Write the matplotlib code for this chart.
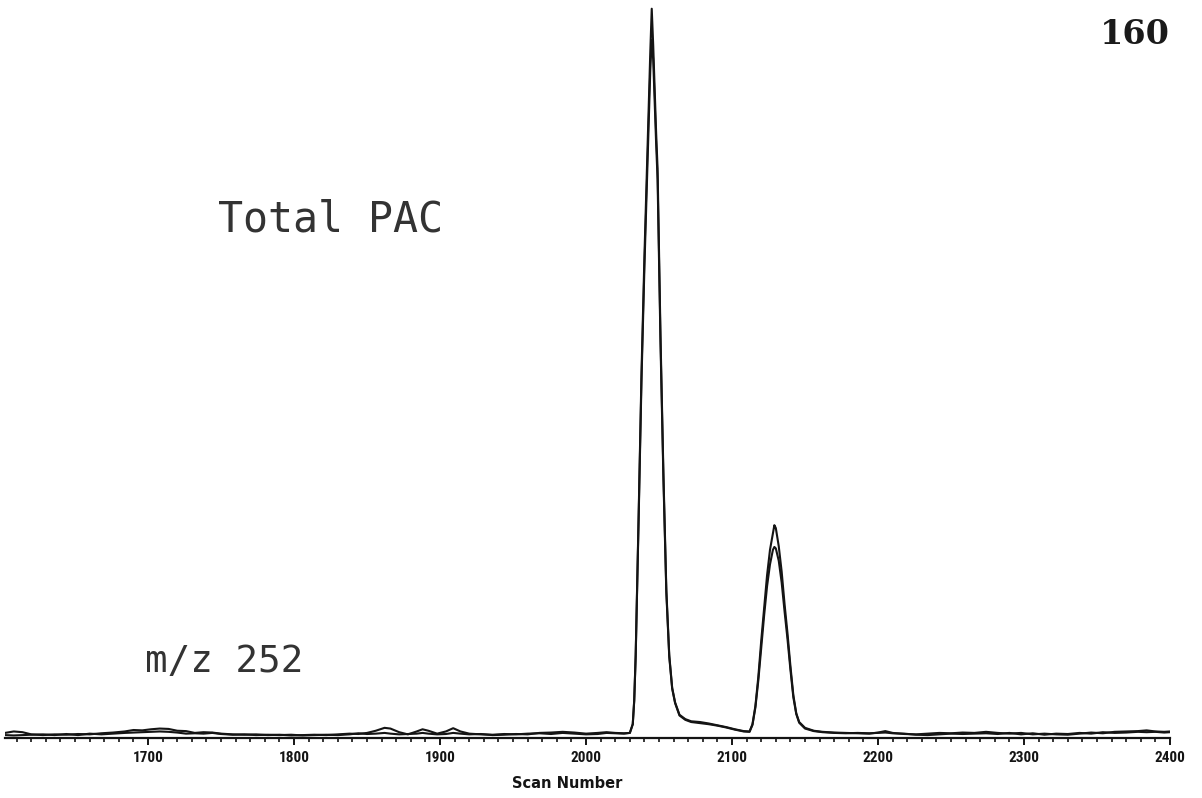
import matplotlib
matplotlib.use("Agg")
import matplotlib.pyplot as plt
from matplotlib.ticker import MultipleLocator, FixedLocator

# Scan numbers at which the two ion-current traces are sampled
scans = [
    1602, 1608, 1614, 1620, 1628, 1636, 1644, 1652, 1660, 1668, 1676, 1684,
    1690, 1696, 1702, 1708, 1714, 1720, 1726, 1732, 1738, 1744, 1750, 1758,
    1766, 1774, 1782, 1790, 1798, 1806, 1814, 1822, 1830, 1838, 1844, 1850,
    1856, 1862, 1866, 1872, 1878, 1884, 1888, 1892, 1898, 1904, 1909, 1914,
    1920, 1928, 1936, 1944, 1952, 1960, 1968, 1976, 1984, 1992, 2000, 2008,
    2014, 2020, 2026, 2030,
    2032, 2033, 2034, 2036, 2038, 2040, 2042, 2044, 2045, 2046, 2048, 2049,
    2051, 2053, 2055, 2057, 2059, 2061,
    2064, 2068, 2072, 2078, 2084, 2090, 2096, 2102, 2108, 2112,
    2114, 2116, 2118, 2120, 2122, 2124, 2126, 2128, 2129, 2130, 2132, 2134,
    2136, 2138, 2140, 2142, 2144, 2146,
    2150, 2156, 2162, 2170, 2178, 2186, 2194, 2200, 2205, 2210, 2218, 2226,
    2234, 2242, 2250, 2258, 2266, 2274, 2282, 2290, 2298, 2306, 2314, 2322,
    2330, 2338, 2346, 2354, 2362, 2370, 2378, 2384, 2390, 2396, 2400,
]

# Total PAC ion current (relative intensity)
total_pac = [
    0.30, 0.50, 0.40, 0.10, 0.00, 0.10, 0.05, 0.15, 0.10, 0.25, 0.35, 0.50,
    0.70, 0.65, 0.80, 0.90, 0.85, 0.60, 0.55, 0.30, 0.40, 0.35, 0.20, 0.10,
    0.05, 0.10, 0.00, 0.05, -0.05, 0.00, 0.05, 0.00, 0.10, 0.20, 0.15, 0.30,
    0.60, 1.00, 0.90, 0.40, 0.10, 0.50, 0.80, 0.60, 0.20, 0.50, 0.95, 0.50,
    0.20, 0.10, 0.05, 0.15, 0.10, 0.20, 0.25, 0.15, 0.30, 0.20, 0.10, 0.15,
    0.30, 0.25, 0.20, 0.30,
    1.5, 4.8, 11.0, 30.0, 50.0, 66.0, 80.0, 94.0, 100.0, 95.0, 83.0, 78.0,
    55.0, 36.0, 20.0, 11.0, 6.5, 4.5,
    2.8, 2.2, 1.9, 1.8, 1.6, 1.35, 1.1, 0.8, 0.55, 0.5,
    1.5, 4.0, 8.0, 13.0, 17.5, 22.0, 25.5, 27.8, 28.9, 28.5, 26.0, 22.5,
    18.0, 14.0, 9.5, 5.5, 3.0, 1.8,
    1.00, 0.60, 0.45, 0.35, 0.30, 0.25, 0.20, 0.35, 0.55, 0.30, 0.15, 0.10,
    0.20, 0.30, 0.25, 0.35, 0.30, 0.45, 0.30, 0.20, 0.30, 0.10, 0.20, 0.10,
    0.05, 0.20, 0.35, 0.25, 0.45, 0.50, 0.55, 0.65, 0.50, 0.45, 0.50,
]

# m/z 252 ion current (relative intensity)
mz_252 = [
    0.00, -0.05, 0.00, 0.05, 0.10, 0.00, 0.15, 0.00, 0.20, 0.10, 0.20, 0.30,
    0.35, 0.40, 0.45, 0.50, 0.45, 0.35, 0.20, 0.25, 0.20, 0.30, 0.15, 0.05,
    0.10, 0.00, 0.05, 0.00, 0.05, -0.05, 0.00, 0.05, 0.00, 0.10, 0.25, 0.15,
    0.20, 0.30, 0.20, 0.10, 0.15, 0.20, 0.30, 0.20, 0.10, 0.15, 0.30, 0.20,
    0.10, 0.15, 0.00, 0.05, 0.15, 0.10, 0.30, 0.35, 0.45, 0.35, 0.20, 0.30,
    0.40, 0.30, 0.25, 0.30,
    1.5, 4.7, 10.8, 29.5, 49.0, 64.5, 78.0, 91.5, 95.7, 93.0, 81.5, 76.5,
    54.0, 35.3, 19.6, 10.8, 6.4, 4.4,
    2.7, 2.1, 1.8, 1.65, 1.5, 1.3, 1.05, 0.75, 0.5, 0.45,
    1.4, 3.8, 7.5, 12.0, 16.5, 20.5, 23.5, 25.5, 25.9, 25.7, 24.0, 21.0,
    17.0, 13.2, 9.0, 5.2, 2.9, 1.7,
    0.90, 0.55, 0.40, 0.30, 0.25, 0.30, 0.25, 0.30, 0.35, 0.25, 0.20, 0.05,
    0.00, 0.10, 0.20, 0.15, 0.20, 0.25, 0.15, 0.30, 0.10, 0.25, 0.05, 0.20,
    0.15, 0.30, 0.20, 0.40, 0.30, 0.35, 0.45, 0.40, 0.45, 0.35, 0.40,
]

major_ticks = [1700, 1800, 1900, 2000, 2100, 2200, 2300, 2400]
major_labels = ["1700", "1800", "1900", "2000", "2100", "2200", "2300", "2400"]

W, H = 1202, 798
fig = plt.figure(figsize=(W / 100, H / 100), dpi=100)
fig.patch.set_facecolor("white")

ax = fig.add_axes([5 / W, 60 / H, (1170 - 5) / W, 738 / H])
ax.set_facecolor("none")

trace_color = "#141414"
ax.plot(scans, total_pac, color=trace_color, lw=1.5, solid_joinstyle="round")
ax.plot(scans, mz_252, color=trace_color, lw=1.5, solid_joinstyle="round")

ax.set_xlim(1602, 2400)
ax.set_ylim(-0.4, 101.2)

for side in ("left", "right", "top"):
    ax.spines[side].set_visible(False)
ax.spines["bottom"].set_linewidth(1.6)
ax.spines["bottom"].set_color(trace_color)

ax.xaxis.set_major_locator(FixedLocator(major_ticks))
ax.xaxis.set_minor_locator(MultipleLocator(10))
ax.set_xticklabels(major_labels, fontsize=11, fontweight="bold",
                   fontstretch="condensed",
                   family=["Liberation Sans Narrow", "Roboto Condensed",
                           "DejaVu Sans"])
ax.tick_params(axis="x", which="major", direction="out", length=5, width=1.4,
               colors=trace_color, pad=4)
ax.tick_params(axis="x", which="minor", direction="out", length=3, width=1.2,
               colors=trace_color)
ax.set_yticks([])

fig.text(567 / W, (H - 783) / H, "Scan Number", ha="center", va="center",
         fontsize=10.5, fontweight="bold", color=trace_color)

fig.text(218 / W, (H - 232) / H, "Total PAC", ha="left", va="baseline",
         fontsize=30, family="DejaVu Sans Mono", color="#333333")
fig.text(145 / W, (H - 672) / H, "m/z 252", ha="left", va="baseline",
         fontsize=27, family="DejaVu Sans Mono", color="#333333")
fig.text(1170 / W, (H - 35) / H, "160", ha="right", va="center",
         fontsize=24, family="DejaVu Serif", fontweight="bold",
         color="#1a1a1a")

fig.savefig("out.png", dpi=100, facecolor="white")
